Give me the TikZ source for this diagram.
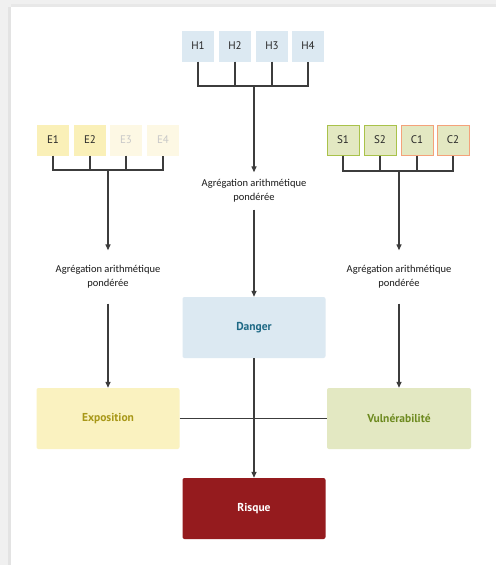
\documentclass[tikz,border=0pt]{standalone}
\usepackage{fontspec}
\setmainfont{PT Sans}
\newfontfamily\aggfont{Carlito}
\usetikzlibrary{arrows.meta}

\definecolor{hblue}{HTML}{DCE9F2}
\definecolor{eyellow}{HTML}{FAF0B8}
\definecolor{efaint}{HTML}{FDF8E4}
\definecolor{efainttext}{HTML}{C8C8C8}
\definecolor{sgreen}{HTML}{E3E8C2}
\definecolor{sborder}{HTML}{A9C24A}
\definecolor{cborder}{HTML}{F4A27A}
\definecolor{dangertext}{HTML}{1E6985}
\definecolor{expofill}{HTML}{FAF2C0}
\definecolor{expotext}{HTML}{A89818}
\definecolor{vulntext}{HTML}{6D8A1F}
\definecolor{riskfill}{HTML}{951B1E}
\definecolor{linegray}{HTML}{3C3C3C}

\begin{document}
\begin{tikzpicture}[x=1pt,y=-1pt,
        small/.style={rectangle,minimum width=32pt,minimum height=31pt,inner sep=0pt,
                font=\fontsize{11}{13}\selectfont,text=black!85},
        big/.style={rectangle,rounded corners=2pt,minimum width=143pt,minimum height=61pt,
                inner sep=0pt,font=\fontsize{11.5}{13}\selectfont\bfseries},
        agg/.style={align=center,font=\aggfont\fontsize{10.5}{14}\selectfont,text=black!90},
        link/.style={draw=linegray,line width=1.3pt},
        arr/.style={link,-{Triangle[length=6pt,width=5pt]}}]
        % background
        \useasboundingbox (0,0) rectangle (496,565);
        \fill[black!6] (0,0) rectangle (496,565);
        \fill[black!11] (8,7) rectangle (11,565);
        \fill[black!9] (11,4) rectangle (496,7);
        \fill[white] (11,7) rectangle (496,565);
        % inputs
        \draw (198,46) node[small,fill=hblue] (H1) {H1};
        \draw (235,46) node[small,fill=hblue] (H2) {H2};
        \draw (272,46) node[small,fill=hblue] (H3) {H3};
        \draw (308,46) node[small,fill=hblue] (H4) {H4};
        \draw (53,140) node[small,fill=eyellow] (E1) {E1};
        \draw (90,140) node[small,fill=eyellow] (E2) {E2};
        \draw (126,140) node[small,fill=efaint,text=efainttext] (E3) {E3};
        \draw (163,140) node[small,fill=efaint,text=efainttext] (E4) {E4};
        \draw (343,140) node[small,fill=sgreen,draw=sborder,line width=1pt,minimum height=30pt] (S1) {S1};
        \draw (380,140) node[small,fill=sgreen,draw=sborder,line width=1pt,minimum height=30pt] (S2) {S2};
        \draw (417,140) node[small,fill=sgreen,draw=cborder,line width=1pt,minimum height=30pt] (C1) {C1};
        \draw (453,140) node[small,fill=sgreen,draw=cborder,line width=1pt,minimum height=30pt] (C2) {C2};
        % aggregation labels
        \draw (254,191) node[agg,inner ysep=7pt] (aggH) {Agrégation arithmétique\\pondérée};
        \draw (108,277) node[agg,inner ysep=15pt] (aggE) {Agrégation arithmétique\\pondérée};
        \draw (399,277) node[agg,inner ysep=15pt] (aggV) {Agrégation arithmétique\\pondérée};
        % main boxes
        \draw (254,327.5) node[big,fill=hblue,text=dangertext] (D) {Danger};
        \draw (108,418.5) node[big,fill=expofill,text=expotext] (X) {Exposition};
        \draw (399,418.5) node[big,fill=sgreen,text=vulntext,minimum width=144pt] (V) {Vulnérabilité};
        \draw (254,508.5) node[big,fill=riskfill,text=white] (R) {Risque};
        % buses
        \coordinate (hbus) at (254,86);
        \coordinate (ebus) at (108,170);
        \coordinate (vbus) at (399,171);
        \draw[link] (H1.south) |- (hbus) -| (H4.south);
        \draw[link] (H2.south) -- (H2.south |- hbus);
        \draw[link] (H3.south) -- (H3.south |- hbus);
        \draw[link] (E1.south) |- (ebus) -| (E4.south);
        \draw[link] (E2.south) -- (E2.south |- ebus);
        \draw[link] (E3.south) -- (E3.south |- ebus);
        \draw[link] (S1.south) |- (vbus) -| (C2.south);
        \draw[link] (S2.south) -- (S2.south |- vbus);
        \draw[link] (C1.south) -- (C1.south |- vbus);
        % arrows
        \draw[arr] (hbus) -- (aggH);
        \draw[arr] (ebus) -- (aggE);
        \draw[arr] (vbus) -- (aggV);
        \draw[arr] (aggH) -- (D);
        \draw[arr] (aggE) -- (X);
        \draw[arr] (aggV) -- (V);
        \draw[link] (X) -- (V);
        \draw[arr] (D) -- (R);
\end{tikzpicture}
\end{document}
